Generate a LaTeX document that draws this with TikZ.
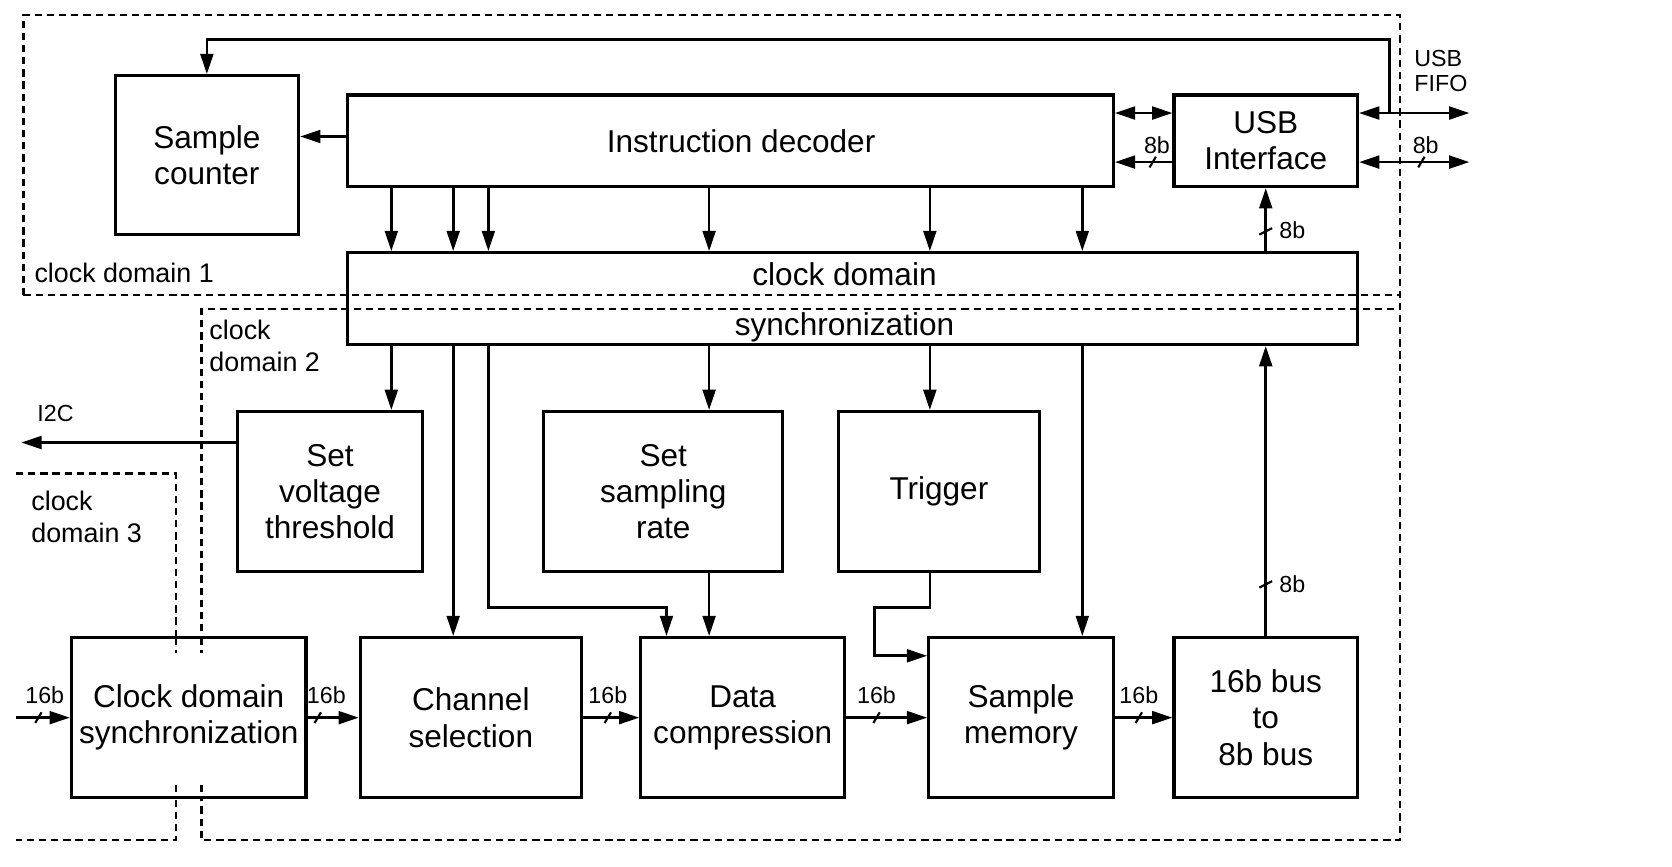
\documentclass[tikz,border=0pt]{standalone}
\usepackage{fontspec}
\setmainfont{Liberation Sans}
\usetikzlibrary{arrows.meta}
\newcommand\mainfs{\fontsize{14.8}{17}\selectfont}
\newcommand\smallfs{\fontsize{10.9}{11.5}\selectfont}
\newcommand\domfs{\fontsize{12.6}{15}\selectfont}
\tikzset{
  blk/.style={draw, line width=1.5pt, fill=white, inner sep=0pt, align=center, font=\mainfs},
  txt/.style={inner sep=0pt, font=\mainfs},
  arr/.style={line width=1.25pt, -{Triangle[length=9.5pt,width=6pt]}},
  darr/.style={line width=1.25pt, {Triangle[length=9.5pt,width=6pt]}-{Triangle[length=9.5pt,width=6pt]}},
  dom/.style={line width=1pt, dash pattern=on 3.4pt off 2.3pt},
  slashmark/.style={line width=1pt},
  small/.style={inner sep=0pt, font=\smallfs, align=left},
  domlbl/.style={inner sep=0pt, font=\domfs, align=left, anchor=west},
}
\begin{document}
\begin{tikzpicture}[x=0.5pt,y=-0.5pt]
\useasboundingbox (0,0) rectangle (1568,813);

% clock domains
\draw[dom] (22,277) -- (22,14) -- (1313,14) -- (1313,788) -- (189,788) -- (189,290) -- (1313,290);
\draw[dom] (22,277) -- (1313,277);
\draw[dom] (15,444) -- (165,444) -- (165,788) -- (15,788);

% blocks
\node[blk, minimum width=86pt, minimum height=74.5pt] (sc) at (194,145.5) {Sample\\counter};
\node[blk, minimum width=359pt, minimum height=43pt] (id) at (685,132) {\hspace*{10pt}Instruction decoder};
\node[blk, minimum width=86pt, minimum height=43pt] (usb) at (1187,132) {USB\\Interface};
\node[draw, line width=1.5pt, inner sep=0pt, minimum width=473.5pt, minimum height=43pt] (cds) at (799.5,280) {};
\node[txt] (cdsa) at (792,257) {clock domain};
\node[txt] (cdsb) at (792,307) {synchronization};
\node[blk, minimum width=86.5pt, minimum height=75pt] (svt) at (309.5,461) {Set\\voltage\\threshold};
\node[blk, minimum width=112pt, minimum height=75pt] (ssr) at (622,461) {Set\\sampling\\rate};
\node[blk, minimum width=94.5pt, minimum height=75pt] (trg) at (880.5,461) {Trigger};
\node[blk, minimum width=110pt, minimum height=75pt] (cdsm) at (177,673) {Clock domain\\synchronization};
\node[blk, minimum width=103.5pt, minimum height=75pt] (chs) at (441.5,673) {Channel\\selection};
\node[blk, minimum width=95.5pt, minimum height=75pt] (dc) at (696.5,673) {Data\\compression};
\node[blk, minimum width=86.5pt, minimum height=75pt] (sm) at (957.5,673) {Sample\\memory};
\node[blk, minimum width=86pt, minimum height=75pt] (bus) at (1187,673) {16b bus\\to\\8b bus};

% domain lines visible inside the small sync box
\draw[dom] (165,598) -- (165,612) (189,598) -- (189,612);
\draw[dom] (165,736) -- (165,748) (189,736) -- (189,748);

% domain labels
\node[domlbl] (d1) at (32,256) {clock domain 1};
\node[domlbl] (d2) at (196,324) {clock\\domain 2};
\node[domlbl] (d3) at (29,485) {clock\\domain 3};

% decoder -> sample counter
\draw[arr] (id.west |- 0,128) -- (sc.east |- 0,128);

% decoder -> clock domain sync
\foreach \x in {367,425,458,665,872,1015}
  \draw[arr] (\x,0 |- id.south) -- (\x,0 |- cds.north);

% clock domain sync -> lower blocks
\draw[arr] (367,0 |- cds.south) -- (367,0 |- svt.north);
\draw[arr] (425,0 |- cds.south) -- (425,0 |- chs.north);
\draw[arr] (458,0 |- cds.south) -- (458,570) -- (625,570) -- (625,0 |- dc.north);
\draw[arr] (665,0 |- cds.south) -- (665,0 |- ssr.north);
\draw[arr] (872,0 |- cds.south) -- (872,0 |- trg.north);
\draw[arr] (1015,0 |- cds.south) -- (1015,0 |- sm.north);
\draw[arr] (665,0 |- ssr.south) -- (665,0 |- dc.north);
\draw[arr] (872,0 |- trg.south) -- (872,570) -- (820,570) -- (820,615) -- (sm.west |- 0,615);

% 16b->8b bus up to sync, sync up to USB
\draw[arr] (bus.north) -- (bus.north |- cds.south);
\draw[slashmark] (1181,551) -- (1193,545);
\node[small] (l8c) at (1212,548) {8b};
\draw[arr] (usb.south |- cds.north) -- (usb.south);
\draw[slashmark] (1181,220) -- (1193,214);
\node[small] (l8d) at (1212,216) {8b};

% decoder <-> USB
\draw[darr] (id.east |- 0,106) -- (usb.west |- 0,106);
\draw[arr] (usb.west |- 0,152) -- (id.east |- 0,152);
\draw[slashmark] (1078,157) -- (1084,147);
\node[small] (l8a) at (1085,136) {8b};

% USB FIFO
\coordinate (f1) at (1378,106);
\coordinate (f2) at (1378,152);
\draw[darr] (usb.east |- f1) -- (f1);
\draw[darr] (usb.east |- f2) -- (f2);
\draw[slashmark] (1330,157) -- (1336,147);
\node[small] (l8b) at (1337,136) {8b};
\node[small, anchor=west] (fifo) at (1326,66.5) {USB\\FIFO};
\draw[arr] (1303,0 |- f1) -- (1303,37) -- (sc.north |- 0,37) -- (sc.north);

% I2C
\coordinate (i2c) at (20,415);
\draw[arr] (svt.west |- i2c) -- (i2c);
\node[small] (li2c) at (52,388) {I2C};

% 16b data path
\coordinate (in) at (15,673);
\draw[arr] (in) -- (cdsm.west);
\draw[arr] (cdsm.east) -- (chs.west);
\draw[arr] (chs.east) -- (dc.west);
\draw[arr] (dc.east) -- (sm.west);
\draw[arr] (sm.east) -- (bus.west);
\foreach \x in {36,298,570,822,1068}
  \draw[slashmark] (\x-3,678) -- (\x+3,668);
\node[small] (b1) at (42,652) {16b};
\node[small] (b2) at (306,652) {16b};
\node[small] (b3) at (570,652) {16b};
\node[small] (b4) at (822,652) {16b};
\node[small] (b5) at (1068,652) {16b};
\end{tikzpicture}
\end{document}
